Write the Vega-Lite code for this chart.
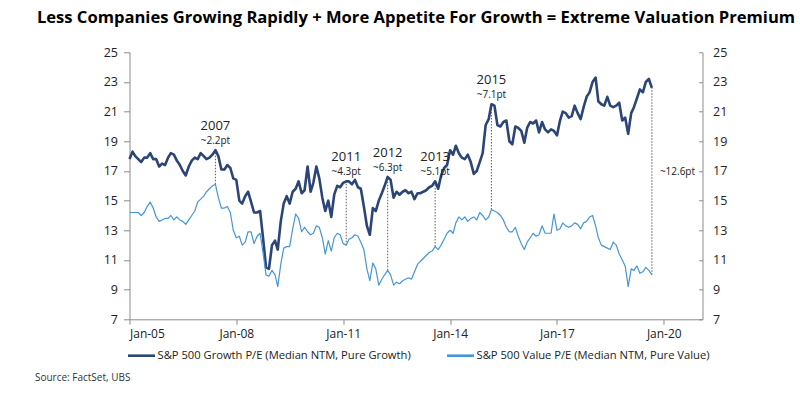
{
  "$schema": "https://vega.github.io/schema/vega-lite/v6.json",
  "width": 573,
  "height": 267,
  "autosize": {"type": "none"},
  "padding": {"left": 129.5, "top": 52.3, "right": 97, "bottom": 76},
  "background": "white",
  "config": {"view": {"stroke": null}, "font": "Open Sans"},
  "title": {
    "text": "Less Companies Growing Rapidly + More Appetite For Growth = Extreme Valuation Premium",
    "font": "Open Sans", "fontSize": 16.6, "fontWeight": "bold", "color": "#000000",
    "anchor": "middle", "frame": "group", "offset": 20
  },
  "datasets": {
    "pe": [
      {"date":"2005-01","growth":17.8,"value":14.2},{"date":"2005-02","growth":18.3,"value":14.2},{"date":"2005-03","growth":18.0,"value":14.2},{"date":"2005-04","growth":17.8,"value":14.2},{"date":"2005-05","growth":17.6,"value":14.0},{"date":"2005-06","growth":17.9,"value":14.2},{"date":"2005-07","growth":17.9,"value":14.6},{"date":"2005-08","growth":18.2,"value":14.9},{"date":"2005-09","growth":17.8,"value":14.5},{"date":"2005-10","growth":17.8,"value":13.9},{"date":"2005-11","growth":17.3,"value":13.6},{"date":"2005-12","growth":17.5,"value":13.7},
      {"date":"2006-01","growth":17.4,"value":13.8},{"date":"2006-02","growth":17.9,"value":13.8},{"date":"2006-03","growth":18.2,"value":14.0},{"date":"2006-04","growth":18.1,"value":13.7},{"date":"2006-05","growth":17.7,"value":13.9},{"date":"2006-06","growth":17.4,"value":13.7},{"date":"2006-07","growth":17.0,"value":13.6},{"date":"2006-08","growth":16.7,"value":13.4},{"date":"2006-09","growth":17.3,"value":13.7},{"date":"2006-10","growth":17.7,"value":14.0},{"date":"2006-11","growth":17.9,"value":14.3},{"date":"2006-12","growth":17.8,"value":14.9},
      {"date":"2007-01","growth":18.2,"value":15.1},{"date":"2007-02","growth":18.0,"value":15.3},{"date":"2007-03","growth":17.8,"value":15.6},{"date":"2007-04","growth":17.9,"value":15.8},{"date":"2007-05","growth":18.1,"value":16.0},{"date":"2007-06","growth":18.4,"value":16.1},{"date":"2007-07","growth":18.0,"value":15.2},{"date":"2007-08","growth":17.1,"value":14.5},{"date":"2007-09","growth":17.1,"value":14.5},{"date":"2007-10","growth":17.4,"value":14.6},{"date":"2007-11","growth":17.2,"value":14.2},{"date":"2007-12","growth":16.5,"value":13.0},
      {"date":"2008-01","growth":16.4,"value":12.5},{"date":"2008-02","growth":15.0,"value":12.6},{"date":"2008-03","growth":14.8,"value":12.0},{"date":"2008-04","growth":15.3,"value":12.2},{"date":"2008-05","growth":15.6,"value":12.9},{"date":"2008-06","growth":14.9,"value":12.9},{"date":"2008-07","growth":14.2,"value":12.1},{"date":"2008-08","growth":14.2,"value":12.6},{"date":"2008-09","growth":14.3,"value":12.8},{"date":"2008-10","growth":12.5,"value":11.5},{"date":"2008-11","growth":10.5,"value":10.0},{"date":"2008-12","growth":10.4,"value":9.9},
      {"date":"2009-01","growth":12.0,"value":10.3},{"date":"2009-02","growth":12.3,"value":10.0},{"date":"2009-03","growth":11.7,"value":9.2},{"date":"2009-04","growth":13.6,"value":10.7},{"date":"2009-05","growth":14.8,"value":11.8},{"date":"2009-06","growth":15.3,"value":11.9},{"date":"2009-07","growth":14.8,"value":11.9},{"date":"2009-08","growth":15.6,"value":13.1},{"date":"2009-09","growth":15.8,"value":14.1},{"date":"2009-10","growth":16.3,"value":13.8},{"date":"2009-11","growth":15.5,"value":12.9},{"date":"2009-12","growth":15.7,"value":13.2},
      {"date":"2010-01","growth":17.3,"value":12.9},{"date":"2010-02","growth":15.6,"value":12.7},{"date":"2010-03","growth":16.2,"value":12.8},{"date":"2010-04","growth":17.3,"value":13.3},{"date":"2010-05","growth":16.5,"value":13.2},{"date":"2010-06","growth":15.2,"value":12.5},{"date":"2010-07","growth":14.3,"value":11.4},{"date":"2010-08","growth":15.0,"value":12.3},{"date":"2010-09","growth":13.9,"value":11.6},{"date":"2010-10","growth":15.4,"value":12.5},{"date":"2010-11","growth":16.0,"value":12.8},{"date":"2010-12","growth":15.9,"value":12.7},
      {"date":"2011-01","growth":16.2,"value":12.1},{"date":"2011-02","growth":16.3,"value":12.0},{"date":"2011-03","growth":16.3,"value":12.4},{"date":"2011-04","growth":16.1,"value":12.5},{"date":"2011-05","growth":16.4,"value":12.7},{"date":"2011-06","growth":15.9,"value":12.6},{"date":"2011-07","growth":15.8,"value":12.2},{"date":"2011-08","growth":14.6,"value":11.7},{"date":"2011-09","growth":13.3,"value":10.4},{"date":"2011-10","growth":12.7,"value":9.6},{"date":"2011-11","growth":14.5,"value":10.8},{"date":"2011-12","growth":14.3,"value":10.4},
      {"date":"2012-01","growth":15.0,"value":9.3},{"date":"2012-02","growth":15.5,"value":9.7},{"date":"2012-03","growth":16.0,"value":10.0},{"date":"2012-04","growth":16.6,"value":10.3},{"date":"2012-05","growth":16.4,"value":10.0},{"date":"2012-06","growth":15.2,"value":9.3},{"date":"2012-07","growth":15.6,"value":9.5},{"date":"2012-08","growth":15.4,"value":9.4},{"date":"2012-09","growth":15.6,"value":9.6},{"date":"2012-10","growth":15.7,"value":9.7},{"date":"2012-11","growth":15.5,"value":9.8},{"date":"2012-12","growth":15.6,"value":9.7},
      {"date":"2013-01","growth":15.1,"value":10.2},{"date":"2013-02","growth":15.5,"value":10.7},{"date":"2013-03","growth":15.5,"value":10.9},{"date":"2013-04","growth":15.6,"value":11.1},{"date":"2013-05","growth":15.7,"value":11.3},{"date":"2013-06","growth":15.9,"value":11.5},{"date":"2013-07","growth":16.0,"value":11.6},{"date":"2013-08","growth":16.3,"value":11.9},{"date":"2013-09","growth":15.8,"value":11.7},{"date":"2013-10","growth":16.7,"value":12.0},{"date":"2013-11","growth":17.2,"value":12.4},{"date":"2013-12","growth":17.4,"value":12.8},
      {"date":"2014-01","growth":18.4,"value":13.0},{"date":"2014-02","growth":18.1,"value":12.8},{"date":"2014-03","growth":18.7,"value":13.5},{"date":"2014-04","growth":18.2,"value":13.9},{"date":"2014-05","growth":17.9,"value":13.7},{"date":"2014-06","growth":17.8,"value":13.9},{"date":"2014-07","growth":18.1,"value":13.6},{"date":"2014-08","growth":17.6,"value":13.8},{"date":"2014-09","growth":16.8,"value":13.9},{"date":"2014-10","growth":17.0,"value":13.7},{"date":"2014-11","growth":17.6,"value":14.2},{"date":"2014-12","growth":18.2,"value":14.0},
      {"date":"2015-01","growth":20.1,"value":13.7},{"date":"2015-02","growth":20.5,"value":13.9},{"date":"2015-03","growth":21.5,"value":14.4},{"date":"2015-04","growth":21.4,"value":14.3},{"date":"2015-05","growth":20.1,"value":14.2},{"date":"2015-06","growth":20.0,"value":14.0},{"date":"2015-07","growth":20.3,"value":13.7},{"date":"2015-08","growth":20.4,"value":13.2},{"date":"2015-09","growth":19.0,"value":12.9},{"date":"2015-10","growth":18.8,"value":12.9},{"date":"2015-11","growth":20.0,"value":13.2},{"date":"2015-12","growth":19.9,"value":12.6},
      {"date":"2016-01","growth":19.7,"value":12.1},{"date":"2016-02","growth":18.9,"value":11.7},{"date":"2016-03","growth":19.9,"value":12.2},{"date":"2016-04","growth":20.3,"value":12.5},{"date":"2016-05","growth":20.2,"value":12.8},{"date":"2016-06","growth":20.4,"value":12.6},{"date":"2016-07","growth":19.6,"value":12.7},{"date":"2016-08","growth":20.3,"value":13.3},{"date":"2016-09","growth":19.8,"value":12.8},{"date":"2016-10","growth":19.6,"value":12.8},{"date":"2016-11","growth":19.8,"value":12.8},{"date":"2016-12","growth":19.7,"value":14.1},
      {"date":"2017-01","growth":19.4,"value":13.0},{"date":"2017-02","growth":20.4,"value":13.1},{"date":"2017-03","growth":21.0,"value":13.5},{"date":"2017-04","growth":20.9,"value":13.3},{"date":"2017-05","growth":20.6,"value":13.2},{"date":"2017-06","growth":20.7,"value":13.3},{"date":"2017-07","growth":21.4,"value":13.5},{"date":"2017-08","growth":20.9,"value":13.4},{"date":"2017-09","growth":20.5,"value":13.1},{"date":"2017-10","growth":21.3,"value":13.5},{"date":"2017-11","growth":22.0,"value":13.6},{"date":"2017-12","growth":22.3,"value":13.9},
      {"date":"2018-01","growth":23.0,"value":14.0},{"date":"2018-02","growth":23.3,"value":13.3},{"date":"2018-03","growth":21.7,"value":12.5},{"date":"2018-04","growth":21.5,"value":12.0},{"date":"2018-05","growth":21.4,"value":11.9},{"date":"2018-06","growth":22.0,"value":11.8},{"date":"2018-07","growth":21.4,"value":11.7},{"date":"2018-08","growth":21.3,"value":12.2},{"date":"2018-09","growth":21.4,"value":12.0},{"date":"2018-10","growth":21.6,"value":11.4},{"date":"2018-11","growth":20.4,"value":11.0},{"date":"2018-12","growth":20.6,"value":10.6},
      {"date":"2019-01","growth":19.5,"value":9.2},{"date":"2019-02","growth":20.9,"value":10.4},{"date":"2019-03","growth":21.3,"value":10.3},{"date":"2019-04","growth":21.9,"value":10.6},{"date":"2019-05","growth":22.5,"value":10.1},{"date":"2019-06","growth":22.3,"value":10.2},{"date":"2019-07","growth":23.0,"value":10.5},{"date":"2019-08","growth":23.2,"value":10.3},{"date":"2019-09","growth":22.6,"value":10.0}
    ],
    "notes": [
      {"date":"2007-06","growth":18.4,"value":16.1,"year":"2007","gap":"~2.2pt"},
      {"date":"2011-02","growth":16.3,"value":12.0,"year":"2011","gap":"~4.3pt"},
      {"date":"2012-04","growth":16.6,"value":10.3,"year":"2012","gap":"~6.3pt"},
      {"date":"2013-08","growth":16.3,"value":11.9,"year":"2013","gap":"~5.1pt"},
      {"date":"2015-03","growth":21.5,"value":14.4,"year":"2015","gap":"~7.1pt"},
      {"date":"2019-09","growth":22.6,"value":10.0,"year":"","gap":""}
    ],
    "side": [
      {"date":"2019-09","label":"~12.6pt"}
    ]
  },
  "layer": [
    {
      "data": {"name": "notes"},
      "mark": {"type": "rule", "stroke": "#6e6e6e", "strokeDash": [1.5, 1.5], "strokeWidth": 1.1},
      "encoding": {
        "x": {
          "field": "date", "type": "temporal",
          "scale": {"type": "utc", "domain": [{"year": 2005, "month": 1, "date": 1, "utc": true}, {"year": 2021, "month": 2, "date": 1, "utc": true}]},
          "axis": {
            "values": [
              {"year": 2005, "month": 1, "date": 1, "utc": true},
              {"year": 2008, "month": 1, "date": 1, "utc": true},
              {"year": 2011, "month": 1, "date": 1, "utc": true},
              {"year": 2014, "month": 1, "date": 1, "utc": true},
              {"year": 2017, "month": 1, "date": 1, "utc": true},
              {"year": 2020, "month": 1, "date": 1, "utc": true}
            ],
            "labelExpr": "utcFormat(datum.value, '%b-%y')",
            "grid": false, "domainColor": "#8c8c8c", "tickColor": "#8c8c8c", "tickSize": 5,
            "labelFontSize": 12, "labelColor": "#222222", "labelPadding": 4, "labelFont": "Open Sans",
            "title": "Source:  FactSet, UBS", "titleFontSize": 10, "titleFontWeight": "normal", "titleColor": "#333333",
            "titleFont": "Open Sans", "titleAnchor": "start", "titleAlign": "left", "titleBaseline": "middle",
            "titleX": -95, "titleY": 58
          }
        },
        "y": {
          "field": "value", "type": "quantitative",
          "scale": {"domain": [7, 25], "nice": false, "zero": false},
          "axis": {
            "orient": "right", "values": [7, 9, 11, 13, 15, 17, 19, 21, 23, 25], "grid": false,
            "domainColor": "#8c8c8c", "tickColor": "#8c8c8c", "tickSize": -4,
            "labelFontSize": 12.5, "labelColor": "#222222", "labelPadding": 14, "labelFont": "Open Sans",
            "title": null
          }
        },
        "y2": {"field": "growth"}
      }
    },
    {
      "data": {"name": "pe"},
      "mark": {"type": "line", "strokeWidth": 2.6, "strokeJoin": "round"},
      "encoding": {
        "x": {"field": "date", "type": "temporal"},
        "y": {
          "field": "growth", "type": "quantitative",
          "scale": {"domain": [7, 25], "nice": false, "zero": false},
          "axis": {
            "orient": "left", "values": [7, 9, 11, 13, 15, 17, 19, 21, 23, 25], "grid": false,
            "domainColor": "#8c8c8c", "tickColor": "#8c8c8c", "tickSize": 6,
            "labelFontSize": 12.5, "labelColor": "#222222", "labelPadding": 6, "labelFont": "Open Sans",
            "title": null
          }
        },
        "color": {
          "datum": "S&P 500 Growth P/E (Median NTM, Pure Growth)",
          "scale": {
            "domain": ["S&P 500 Growth P/E (Median NTM, Pure Growth)", "S&P 500 Value P/E (Median NTM, Pure Value)"],
            "range": ["#2b4577", "#4596d6"]
          },
          "legend": {
            "orient": "none", "legendX": -3, "legendY": 288, "direction": "horizontal", "title": null,
            "symbolType": "stroke", "symbolStrokeWidth": 2.6, "symbolSize": 729,
            "labelFontSize": 11.2, "labelColor": "#222222", "labelFont": "Open Sans", "labelOffset": 1,
            "labelLimit": 0, "columnPadding": 30
          }
        }
      }
    },
    {
      "data": {"name": "pe"},
      "mark": {"type": "line", "strokeWidth": 1.2, "strokeJoin": "round"},
      "encoding": {
        "x": {"field": "date", "type": "temporal"},
        "y": {"field": "value", "type": "quantitative", "scale": {"domain": [7, 25], "nice": false, "zero": false}, "axis": null},
        "color": {"datum": "S&P 500 Value P/E (Median NTM, Pure Value)"}
      }
    },
    {
      "data": {"name": "notes"},
      "mark": {"type": "text", "fontSize": 13, "color": "#222222", "font": "Open Sans", "dy": -24, "baseline": "middle", "align": "center"},
      "encoding": {
        "x": {"field": "date", "type": "temporal"},
        "y": {"field": "growth", "type": "quantitative", "scale": {"domain": [7, 25], "nice": false, "zero": false}, "axis": null},
        "text": {"field": "year"}
      }
    },
    {
      "data": {"name": "notes"},
      "mark": {"type": "text", "fontSize": 10, "color": "#222222", "font": "Open Sans", "dy": -9, "baseline": "middle", "align": "center"},
      "encoding": {
        "x": {"field": "date", "type": "temporal"},
        "y": {"field": "growth", "type": "quantitative", "scale": {"domain": [7, 25], "nice": false, "zero": false}, "axis": null},
        "text": {"field": "gap"}
      }
    },
    {
      "data": {"name": "side"},
      "mark": {"type": "text", "fontSize": 10, "color": "#222222", "font": "Open Sans", "dx": 8, "baseline": "middle", "align": "left"},
      "encoding": {
        "x": {"field": "date", "type": "temporal"},
        "y": {"datum": 16.9, "type": "quantitative", "scale": {"domain": [7, 25], "nice": false, "zero": false}, "axis": null},
        "text": {"field": "label"}
      }
    }
  ],
  "resolve": {"scale": {"y": "independent"}}
}
